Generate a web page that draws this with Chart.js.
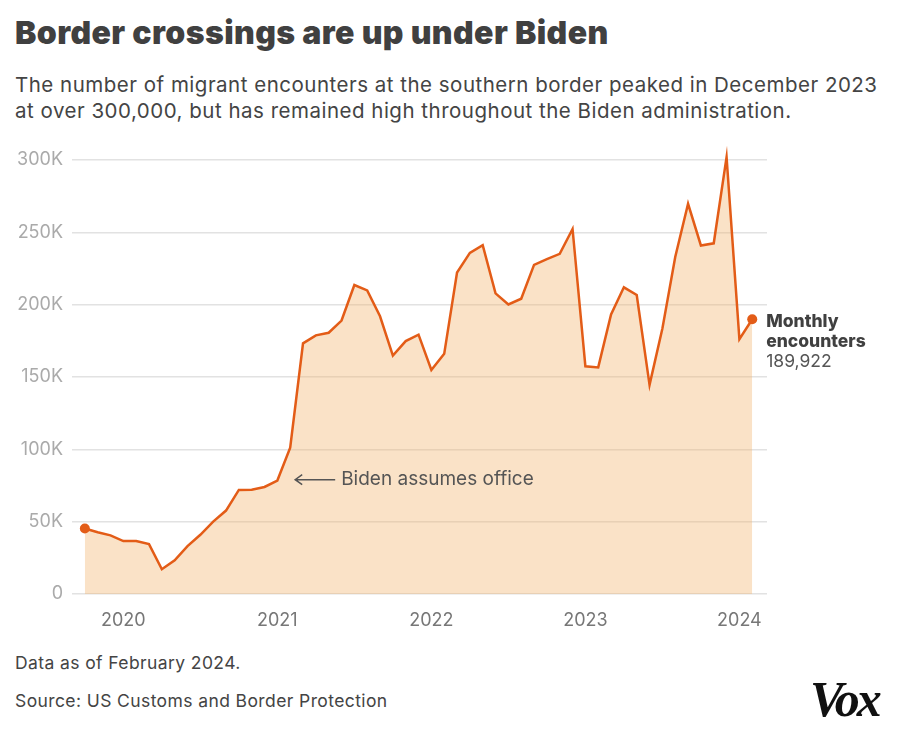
<!DOCTYPE html>
<html>
<head>
<meta charset="utf-8">
<script src="https://cdn.jsdelivr.net/npm/chart.js@4.4.1/dist/chart.umd.min.js"></script>
<style>
  html, body { margin: 0; padding: 0; background: #fff; }
  body { width: 900px; height: 738px; position: relative; overflow: hidden; font-family: Inter, "Noto Sans", sans-serif; }
  #title { position: absolute; left: 15px; top: 13px; font-size: 32px; font-weight: 900; color: #404040; letter-spacing: 0.4px; white-space: nowrap; }
  #subtitle { position: absolute; left: 15px; top: 72px; font-size: 20.5px; line-height: 26px; color: #444; letter-spacing: 0.5px; white-space: nowrap; }
  #chartBox { position: absolute; left: 0; top: 140px; width: 900px; height: 494px; }
  .foot { position: absolute; left: 15px; font-size: 17.5px; color: #444; letter-spacing: 0.4px; }
  #vox { position: absolute; left: 810px; top: 670px; font-family: "Liberation Serif", serif; font-weight: bold; font-style: italic; font-size: 50px; letter-spacing: -3px; color: #111; }
</style>
</head>
<body>
<div id="title">Border crossings are up under Biden</div>
<div id="subtitle">The number of migrant encounters at the southern border peaked in December 2023<br>at over 300,000, but has remained high throughout the Biden administration.</div>
<div id="chartBox"><canvas id="encountersChart"></canvas></div>
<div class="foot" style="top:652px">Data as of February 2024.</div>
<div class="foot" style="top:690px">Source: US Customs and Border Protection</div>
<div id="vox">Vox</div>
<script>
// Monthly southwest border encounters, Oct 2019 - Feb 2024
const months = [
  'Oct 2019','Nov 2019','Dec 2019','Jan 2020','Feb 2020','Mar 2020','Apr 2020','May 2020','Jun 2020','Jul 2020','Aug 2020','Sep 2020',
  'Oct 2020','Nov 2020','Dec 2020','Jan 2021','Feb 2021','Mar 2021','Apr 2021','May 2021','Jun 2021','Jul 2021','Aug 2021','Sep 2021',
  'Oct 2021','Nov 2021','Dec 2021','Jan 2022','Feb 2022','Mar 2022','Apr 2022','May 2022','Jun 2022','Jul 2022','Aug 2022','Sep 2022',
  'Oct 2022','Nov 2022','Dec 2022','Jan 2023','Feb 2023','Mar 2023','Apr 2023','May 2023','Jun 2023','Jul 2023','Aug 2023','Sep 2023',
  'Oct 2023','Nov 2023','Dec 2023','Jan 2024','Feb 2024'
];
const encounters = [
  45250, 42643, 40565, 36585, 36687, 34460, 17106, 23237, 33049, 40929, 50014, 57674,
  71929, 72113, 73994, 78414, 101099, 173277, 178795, 180597, 189034, 213593, 209840, 192001,
  164837, 174845, 179253, 154874, 166010, 222239, 235785, 241136, 207834, 200162, 204087, 227547,
  231529, 235173, 252315, 157358, 156630, 193249, 211992, 206690, 144556, 183503, 232972, 269735,
  240925, 242418, 301983, 176205, 189922
];
const yearLabels = ['2020', '2021', '2022', '2023', '2024'];
const yearTickIndex = [3, 15, 27, 39, 51];
const yTicks = [0, 50000, 100000, 150000, 200000, 250000, 300000];

const orange = '#e35c17';
const points = encounters.map((v, i) => ({ x: i, y: v }));
const lastIdx = encounters.length - 1;

const annotations = {
  id: 'annotations',
  afterDatasetsDraw(chart) {
    const { ctx, scales: { x, y } } = chart;
    ctx.save();
    // Biden arrow
    const ax = x.getPixelForValue(16) + 5;
    const ay = y.getPixelForValue(79000);
    ctx.strokeStyle = '#555';
    ctx.lineWidth = 1.5;
    ctx.beginPath();
    ctx.moveTo(ax + 40, ay);
    ctx.lineTo(ax, ay);
    ctx.moveTo(ax + 7, ay - 5);
    ctx.lineTo(ax, ay);
    ctx.lineTo(ax + 7, ay + 5);
    ctx.stroke();
    ctx.fillStyle = '#555';
    ctx.font = '19px Inter, "Noto Sans", sans-serif';
    ctx.textBaseline = 'middle';
    ctx.fillText('Biden assumes office', ax + 46, ay);
    // end label
    const lx = x.getPixelForValue(lastIdx) + 14;
    const ly = y.getPixelForValue(encounters[lastIdx]);
    ctx.fillStyle = '#404040';
    ctx.font = '800 17.5px Inter, "Noto Sans", sans-serif';
    ctx.fillText('Monthly', lx, ly + 2);
    ctx.fillText('encounters', lx, ly + 22);
    ctx.font = '17.5px Inter, "Noto Sans", sans-serif';
    ctx.fillStyle = '#555';
    ctx.fillText(encounters[lastIdx].toLocaleString('en-US'), lx, ly + 42);
    ctx.restore();
  }
};

new Chart(document.getElementById('encountersChart'), {
  type: 'line',
  data: {
    datasets: [{
      data: points,
      borderColor: orange,
      borderWidth: 2.5,
      backgroundColor: 'rgba(242, 182, 115, 0.4)',
      fill: 'origin',
      tension: 0,
      clip: false,
      pointRadius: points.map((p, i) => (i === 0 || i === lastIdx) ? 5 : 0),
      pointBackgroundColor: orange,
      pointBorderWidth: 0
    }]
  },
  options: {
    responsive: true,
    maintainAspectRatio: false,
    animation: false,
    layout: { padding: { top: 20, right: 133, bottom: 0, left: 0 } },
    plugins: { legend: { display: false }, tooltip: { enabled: false } },
    scales: {
      x: {
        type: 'linear',
        min: -1,
        max: 53.15,
        afterBuildTicks: axis => { axis.ticks = yearTickIndex.map(v => ({ value: v })); },
        afterFit: axis => { axis.height = 40; },
        grid: { display: false },
        border: { display: false },
        ticks: {
          padding: 8,
          color: '#777',
          font: { size: 18, family: 'Inter, "Noto Sans", sans-serif' },
          callback: v => yearLabels[yearTickIndex.indexOf(v)],
          maxRotation: 0
        }
      },
      y: {
        min: 0,
        max: 300000,
        afterBuildTicks: axis => { axis.ticks = yTicks.map(v => ({ value: v })); },
        afterFit: axis => { axis.width = 72; },
        grid: { color: '#e2e2e2', lineWidth: 1.5, drawTicks: false },
        border: { display: false },
        ticks: {
          padding: 9,
          color: '#aaa',
          font: { size: 18, family: 'Inter, "Noto Sans", sans-serif' },
          callback: v => v === 0 ? '0' : (v / 1000) + 'K'
        }
      }
    }
  },
  plugins: [annotations]
});
</script>
</body>
</html>
